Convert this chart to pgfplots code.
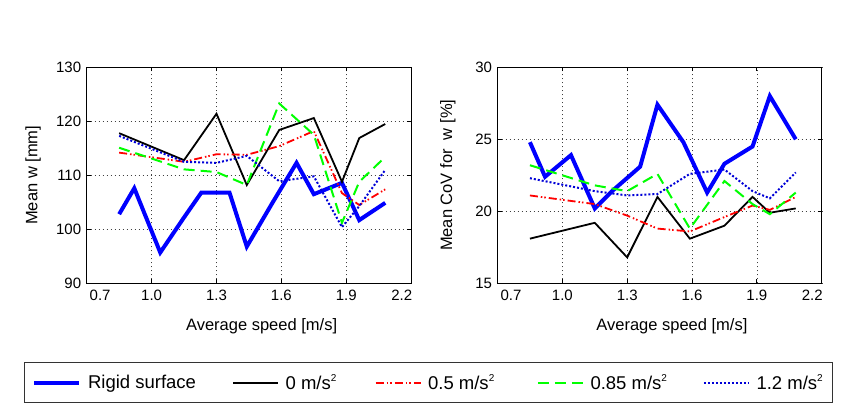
\documentclass[border=0pt]{standalone}
\usepackage{pgfplots}
\pgfplotsset{compat=1.18}
\usepackage{fontspec}
\setmainfont{Liberation Sans}

\definecolor{rigid}{RGB}{0,0,255}
\definecolor{dotblue}{RGB}{0,0,215}
\definecolor{dashred}{RGB}{255,0,0}
\definecolor{dashgreen}{RGB}{0,255,0}

\newcommand{\tickfont}{\fontsize{15}{18}\selectfont}
\newcommand{\labelfont}{\fontsize{16.5}{19}\selectfont}
\newcommand{\legfont}{\fontsize{18.5}{21}\selectfont}
\newcommand{\sq}{\raisebox{0.75ex}{\fontsize{10}{10}\selectfont 2}}

\pgfplotsset{
  panel/.style={
    scale only axis,
    width=324.5pt, height=216pt,
    anchor=south west,
    xmin=0.7, xmax=2.2,
    xtick={0.7,1.0,1.3,1.6,1.9,2.2},
    xticklabels={\makebox[0pt][l]{\kern3pt 0.7},1.0,1.3,1.6,1.9,\makebox[0pt][r]{2.2\kern-1pt}},
    tick align=inside,
    major tick length=4pt,
    axis line style={line width=1pt},
    tick style={line width=0.8pt, black},
    grid=major,
    major grid style={black!75, line width=0.6pt, dash pattern=on 0.8pt off 3.2pt},
    /pgf/number format/assume math mode=true,
    tick label style={font=\tickfont},
    xticklabel style={yshift=-3pt},
    yticklabel style={xshift=-2pt},
    label style={font=\labelfont},
    legend image code/.code={\draw[##1] (0pt,0pt) -- (45pt,0pt);},
  },
  rigid/.style={color=rigid, line width=4pt, line join=miter},
  zero/.style={color=black, line width=1.8pt},
  half/.style={color=dashred, line width=1.8pt, dash pattern=on 8pt off 3pt on 1.5pt off 2pt on 1.5pt off 3pt},
  eightyfive/.style={color=dashgreen, line width=2pt, dash pattern=on 11pt off 6pt},
  onetwo/.style={color=dotblue, line width=2pt, dash pattern=on 2pt off 2pt},
}

\begin{document}
\begin{tikzpicture}
\path[use as bounding box] (0pt,0pt) rectangle (852pt,406pt);

% (a) mean step width
\begin{axis}[panel,
  at={(86.7pt,122.7pt)},
  ymin=90, ymax=130, ytick={90,100,110,120,130},
  ylabel={Mean w [mm]},
  ylabel style={at={(axis description cs:-0.165,0.5)}, anchor=center},
  xlabel={Average speed [m/s]},
  xlabel style={at={(axis description cs:0.539,-0.198)}, anchor=center},
  legend columns=5,
  legend style={at={(axis description cs:-0.1932,-0.366)}, anchor=north west,
    draw=black!80, line width=0.8pt, inner xsep=8pt, inner ysep=12pt,
    font=\legfont,
    nodes={inner sep=0pt, anchor=west},
    /tikz/every odd column/.append style={column sep=6.7pt}},
]
\addplot[rigid] coordinates {(0.85,102.8)(0.92,107.6)(1.04,95.7)(1.15,102.2)(1.23,106.8)(1.36,106.8)(1.44,96.8)(1.56,105.0)(1.67,112.3)(1.75,106.5)(1.88,108.6)(1.96,101.7)(2.08,104.9)};
\addlegendentry{\makebox[144pt][l]{Rigid surface}}
\addplot[zero] coordinates {(0.85,117.8)(1.15,112.8)(1.30,121.4)(1.44,108.2)(1.59,118.4)(1.75,120.6)(1.88,108.8)(1.96,116.9)(2.08,119.5)};
\addlegendentry{\makebox[89pt][l]{0 m/s\sq}}
\addplot[half] coordinates {(0.85,114.2)(1.15,112.5)(1.30,113.9)(1.44,113.8)(1.59,115.4)(1.75,118.2)(1.88,106.7)(1.96,104.5)(2.08,107.4)};
\addlegendentry{\makebox[108.7pt][l]{0.5 m/s\sq}}
\addplot[eightyfive] coordinates {(0.85,115.1)(1.15,111.1)(1.30,110.6)(1.44,108.2)(1.59,123.3)(1.75,117.5)(1.88,101.2)(1.96,108.8)(2.08,113.4)};
\addlegendentry{\makebox[112.3pt][l]{0.85 m/s\sq}}
\addplot[onetwo] coordinates {(0.85,117.3)(1.15,112.5)(1.30,112.3)(1.44,113.6)(1.59,108.9)(1.75,109.8)(1.88,100.4)(1.96,104.3)(2.08,111.0)};
\addlegendentry{\makebox[68pt][l]{1.2 m/s\sq}}
\node[font=\labelfont, anchor=center] at (axis description cs:-0.156,-0.198) {(a)};
\end{axis}

% (b) mean coefficient of variation of step width
\begin{axis}[panel,
  at={(497.5pt,122.7pt)},
  width=324.2pt,
  ymin=15, ymax=30, ytick={15,20,25,30},
  ylabel={Mean CoV for\ \ w [\%]},
  ylabel style={at={(axis description cs:-0.153,0.5)}, anchor=center},
  xlabel={Average speed [m/s]},
  xlabel style={at={(axis description cs:0.538,-0.198)}, anchor=center},
]
\addplot[rigid] coordinates {(0.85,24.8)(0.92,22.4)(1.04,23.9)(1.15,20.2)(1.23,21.4)(1.36,23.1)(1.44,27.4)(1.56,24.8)(1.67,21.3)(1.75,23.3)(1.88,24.5)(1.96,28.0)(2.08,25.0)};
\addplot[zero] coordinates {(0.85,18.1)(1.15,19.2)(1.30,16.8)(1.44,21.0)(1.59,18.1)(1.75,19.0)(1.88,21.0)(1.96,19.9)(2.08,20.2)};
\addplot[half] coordinates {(0.85,21.1)(1.15,20.5)(1.30,19.7)(1.44,18.8)(1.59,18.6)(1.75,19.6)(1.88,20.4)(1.96,20.1)(2.08,21.0)};
\addplot[eightyfive] coordinates {(0.85,23.2)(1.15,21.8)(1.30,21.4)(1.44,22.6)(1.59,18.8)(1.75,22.1)(1.88,20.5)(1.96,19.8)(2.08,21.3)};
\addplot[onetwo] coordinates {(0.85,22.3)(1.15,21.4)(1.30,21.1)(1.44,21.2)(1.59,22.6)(1.75,22.9)(1.88,21.4)(1.96,20.9)(2.08,22.7)};
\node[font=\labelfont, anchor=center] at (axis description cs:-0.132,-0.198) {(b)};
\end{axis}
\end{tikzpicture}
\end{document}
